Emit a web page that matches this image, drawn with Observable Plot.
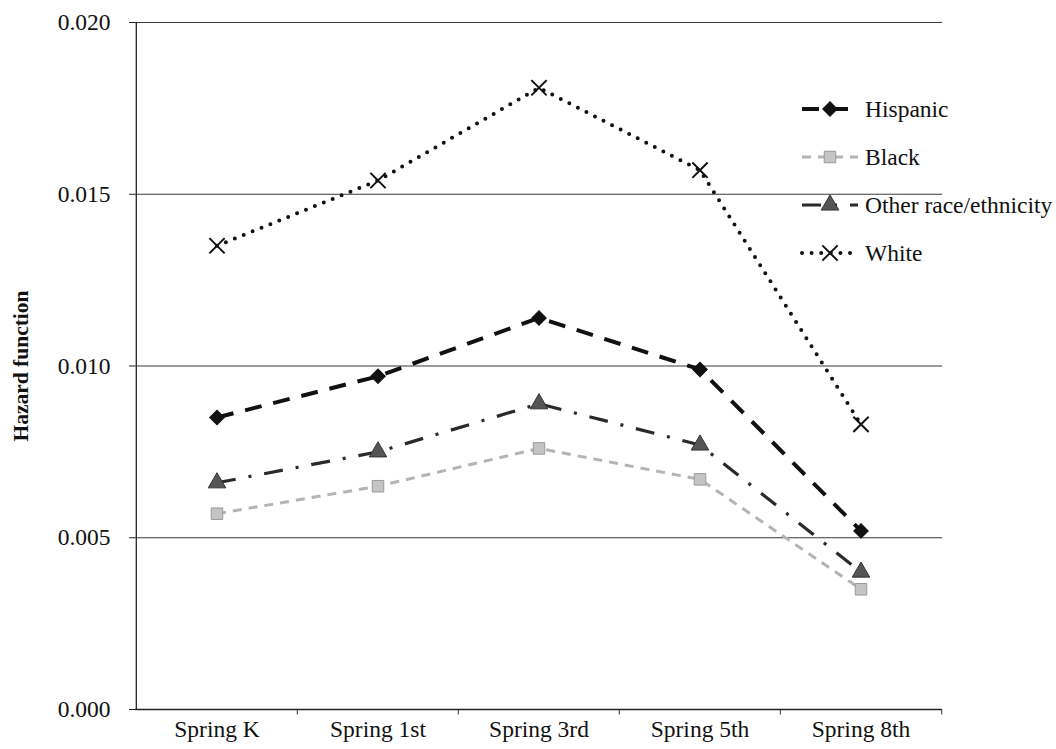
<!DOCTYPE html>
<html>
<head>
<meta charset="utf-8">
<script src="https://cdn.jsdelivr.net/npm/d3@7"></script>
<script src="https://cdn.jsdelivr.net/npm/@observablehq/plot@0.6"></script>
<style>
  html, body { margin: 0; padding: 0; background: #fff; }
  #chart { position: relative; width: 1056px; height: 749px; }
  svg, svg text { font-family: "Liberation Serif", "Times New Roman", serif; }
</style>
</head>
<body>
<div id="chart"></div>
<script>
// ---- data ----
const categories = ["Spring K", "Spring 1st", "Spring 3rd", "Spring 5th", "Spring 8th"];
const hispanic = [0.0085, 0.0097, 0.0114, 0.0099, 0.0052];
const black    = [0.0057, 0.0065, 0.0076, 0.0067, 0.0035];
const other    = [0.0066, 0.0075, 0.0089, 0.0077, 0.0040];
const white    = [0.0135, 0.0154, 0.0181, 0.0157, 0.0083];
const seriesNames = ["Hispanic", "Black", "Other race/ethnicity", "White"];
const yTicks = [0.000, 0.005, 0.010, 0.015, 0.020];
const yLabel = "Hazard function";

// ---- styles ----
const styles = {
  "Hispanic": {stroke: "#111", width: 4, dash: "17,12", cap: "butt", symbol: "square", rotate: 45, r: 5.8, fill: "#111", mstroke: "#111"},
  "Black": {stroke: "#b4b4b4", width: 3, dash: "9,7", cap: "butt", symbol: "square", rotate: 0, r: 6.5, fill: "#c4c4c4", mstroke: "#9a9a9a"},
  "Other race/ethnicity": {stroke: "#2a2a2a", width: 3.2, dash: "19,13,3,13", cap: "butt", symbol: "triangle", rotate: 0, r: 6.5, fill: "#555", mstroke: "#333"},
  "White": {stroke: "#111", width: 4, dash: "0,9.6", cap: "round", symbol: "times", rotate: 0, r: 7, fill: "none", mstroke: "#111"}
};

const values = {"Hispanic": hispanic, "Black": black, "Other race/ethnicity": other, "White": white};
const rows = seriesNames.flatMap(s => categories.map((c, i) => ({series: s, cat: c, value: values[s][i]})));

const lineMarks = seriesNames.map(s => {
  const st = styles[s];
  return Plot.line(rows.filter(d => d.series === s), {
    x: "cat", y: "value", stroke: st.stroke, strokeWidth: st.width,
    strokeDasharray: st.dash, strokeLinecap: st.cap, strokeLinejoin: "round"
  });
});
const dotMarks = seriesNames.map(s => {
  const st = styles[s];
  return Plot.dot(rows.filter(d => d.series === s), {
    x: "cat", y: "value", symbol: st.symbol, r: st.r, rotate: st.rotate,
    fill: st.symbol === "times" ? "none" : st.fill,
    stroke: st.mstroke, strokeWidth: st.symbol === "times" ? 2 : 1
  });
});

const half = 80.7;
const FS = 23.5;
const FONT = "Liberation Serif, Times New Roman, serif";
const plot = Plot.plot({
  width: 1056,
  height: 749,
  marginLeft: 135,
  marginRight: 114,
  marginTop: 22,
  marginBottom: 40,
  style: {fontFamily: FONT, background: "#fff", color: "#111"},
  x: {type: "band", domain: categories, padding: 0, label: null},
  y: {domain: [0, 0.02], label: null},
  marks: [
    Plot.ruleY(yTicks.slice(1), {stroke: "#3a3a3a", strokeWidth: 1.2}),
    Plot.ruleY([0], {stroke: "#222", strokeWidth: 1.3}),
    Plot.ruleX(categories.slice(0, 1), {x: d => d, dx: -half, y1: 0, y2: 0.02, stroke: "#222", strokeWidth: 1.3}),
    Plot.axisY({ticks: yTicks, tickFormat: d3.format(".3f"), tickSize: 6, tickPadding: 19, fontSize: FS, label: null, stroke: "#222"}),
    Plot.axisX({tickSize: 0, tickPadding: 11, fontSize: FS, label: null}),
    Plot.ruleX(categories.slice(1), {x: d => d, dx: -half, y1: 0, y2: -0.00016, stroke: "#333"}),
    Plot.ruleX(categories.slice(-1), {x: d => d, dx: half, y1: 0, y2: -0.00016, stroke: "#333"}),
    Plot.text([yLabel], {frameAnchor: "left", text: d => d, rotate: -90, dx: -114, textAnchor: "middle", fontSize: 21.5, fontWeight: "bold", fill: "#111"}),
    ...lineMarks,
    ...dotMarks
  ]
});

document.getElementById("chart").appendChild(plot);

// ---- legend (drawn with d3 inside the same svg) ----
const svg = d3.select(plot);
const lg = svg.append("g").style("font-family", FONT).attr("text-anchor", "start");
const lx0 = 802, lx1 = 858, tx = 865, ly0 = 109, lstep = 48;
const symMap = {square: d3.symbolSquare, triangle: d3.symbolTriangle, times: d3.symbolTimes};
seriesNames.forEach((s, i) => {
  const st = styles[s];
  const y = ly0 + i * lstep;
  lg.append("line").attr("x1", lx0).attr("x2", lx1).attr("y1", y).attr("y2", y)
    .attr("stroke", st.stroke).attr("stroke-width", st.width)
    .attr("stroke-dasharray", st.dash).attr("stroke-linecap", st.cap);
  const size = Math.PI * st.r * st.r;
  lg.append("path").attr("d", d3.symbol(symMap[st.symbol], size)())
    .attr("transform", `translate(${(lx0 + lx1) / 2},${y}) rotate(${st.rotate})`)
    .attr("fill", st.symbol === "times" ? "none" : st.fill)
    .attr("stroke", st.mstroke).attr("stroke-width", st.symbol === "times" ? 2 : 1);
  lg.append("text").attr("x", tx).attr("y", y).attr("dy", "0.35em").attr("text-anchor", "start")
    .style("font-family", FONT).style("font-size", FS + "px").attr("fill", "#111").text(s);
});
</script>
</body>
</html>
